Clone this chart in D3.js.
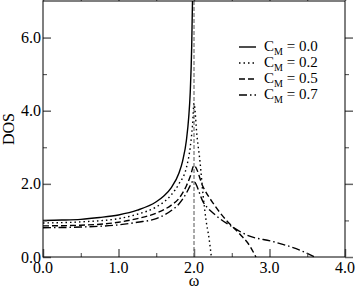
<!DOCTYPE html>
<html>
<head>
<meta charset="utf-8">
<script src="https://cdn.jsdelivr.net/npm/d3@7"></script>
<style>
  body { margin: 0; background: #fff; }
</style>
</head>
<body>
<svg width="357" height="306"></svg>
<script>
// omega grid and DOS, one list per C_M
var w0   = [0, 0.25, 0.5, 0.75, 1.0, 1.25, 1.5, 1.6, 1.7, 1.8, 1.85, 1.9, 1.93, 1.95, 1.97, 1.98];
var dos0 = [1.0, 1.01, 1.03, 1.08, 1.15, 1.28, 1.51, 1.67, 1.9, 2.29, 2.63, 3.2, 3.82, 4.5, 5.8, 7.0];

var w2   = [0, 0.5, 1.0, 1.25, 1.5, 1.7, 1.8, 1.9, 1.95, 1.98, 2.0, 2.04, 2.08, 2.12, 2.16, 2.2, 2.23];
var dos2 = [0.93, 0.96, 1.05, 1.17, 1.37, 1.7, 2.0, 2.45, 3.0, 3.6, 4.2, 3.3, 2.6, 1.7, 1.0, 0.5, 0.0];

var w5   = [0, 0.5, 1.0, 1.25, 1.5, 1.7, 1.8, 1.9, 1.95, 2.0, 2.12, 2.26, 2.43, 2.61, 2.74, 2.82];
var dos5 = [0.85, 0.87, 0.95, 1.05, 1.2, 1.42, 1.6, 1.95, 2.2, 2.5, 1.92, 1.45, 1.0, 0.62, 0.3, 0.0];

var w7   = [0, 0.5, 1.0, 1.25, 1.5, 1.7, 1.8, 1.9, 1.95, 1.99, 2.12, 2.3, 2.48, 2.7, 3.05, 3.4, 3.6];
var dos7 = [0.8, 0.82, 0.88, 0.95, 1.05, 1.27, 1.45, 1.75, 1.95, 2.08, 1.51, 1.12, 0.86, 0.6, 0.42, 0.19, 0.0];

var refLine = [[2.0, 0], [2.0, 7]];

var legendLabels = ["0.0", "0.2", "0.5", "0.7"];
var dashes = [null, "1.5,3", "6,3", "8,3,1.5,3"];

var xTicks = [0, 1, 2, 3, 4];
var yTicks = [0, 2, 4, 6];

var serif = "'Liberation Serif', 'Times New Roman', Times, 'DejaVu Serif', serif";

var svg = d3.select("svg"),
    margin = {top: 1, right: 12, bottom: 49, left: 43},
    width = +svg.attr("width") - margin.left - margin.right,
    height = +svg.attr("height") - margin.top - margin.bottom;

svg.attr("font-family", serif);

var x = d3.scaleLinear().domain([0, 4]).range([0, width]),
    y = d3.scaleLinear().domain([0, 7]).range([height, 0]);

var g = svg.append("g")
    .attr("transform", "translate(" + margin.left + "," + margin.top + ")");

var line = d3.line()
    .x(function(d) { return x(d[0]); })
    .y(function(d) { return y(d[1]); });

// dashed guide at omega = 2
g.append("path")
    .datum(refLine)
    .attr("d", line)
    .attr("fill", "none")
    .attr("stroke", "#555")
    .attr("stroke-width", 1)
    .attr("stroke-dasharray", "4,2");

var series = [[w0, dos0], [w2, dos2], [w5, dos5], [w7, dos7]];
series.forEach(function(s, i) {
    var pts = s[0].map(function(w, j) { return [w, s[1][j]]; });
    g.append("path")
        .datum(pts)
        .attr("d", line.curve(d3.curveMonotoneX))
        .attr("fill", "none")
        .attr("stroke", "#000")
        .attr("stroke-width", 1.4)
        .attr("stroke-dasharray", dashes[i]);
});

// ticks on all four sides, pointing inward
var xMinor = d3.range(0.5, 4, 1), yMinor = d3.range(1, 7, 2);

[["bottom", height], ["top", 0]].forEach(function(p) {
    var ax = p[0] == "bottom" ? d3.axisBottom : d3.axisTop;
    var sgn = p[0] == "bottom" ? 1 : -1;
    var gm = g.append("g").attr("transform", "translate(0," + p[1] + ")")
        .call(ax(x).tickValues(xTicks).tickSize(-8 * sgn).tickFormat(""));
    gm.selectAll("line").attr("stroke", "#666").attr("stroke-width", 1.5);
    var gn = g.append("g").attr("transform", "translate(0," + p[1] + ")")
        .call(ax(x).tickValues(xMinor).tickSize(-4 * sgn).tickFormat(""));
    gn.selectAll("line").attr("stroke", "#444");
    gm.select(".domain").remove(); gn.select(".domain").remove();
});
[["left", 0], ["right", width]].forEach(function(p) {
    var ax = p[0] == "left" ? d3.axisLeft : d3.axisRight;
    var sgn = p[0] == "left" ? 1 : -1;
    var gm = g.append("g").attr("transform", "translate(" + p[1] + ",0)")
        .call(ax(y).tickValues(yTicks).tickSize(-8 * sgn).tickFormat(""));
    gm.selectAll("line").attr("stroke", "#666").attr("stroke-width", 1.5);
    var gn = g.append("g").attr("transform", "translate(" + p[1] + ",0)")
        .call(ax(y).tickValues(yMinor).tickSize(-4 * sgn).tickFormat(""));
    gn.selectAll("line").attr("stroke", "#444");
    gm.select(".domain").remove(); gn.select(".domain").remove();
});

g.append("rect")
    .attr("width", width).attr("height", height)
    .attr("fill", "none").attr("stroke", "#000").attr("stroke-width", 1);

// tick labels
g.selectAll(".xl").data(xTicks).enter().append("text")
    .attr("x", function(d) { return x(d); })
    .attr("y", height + 16)
    .attr("text-anchor", "middle")
    .attr("font-family", serif)
    .attr("font-size", 16)
    .text(function(d) { return d.toFixed(1); });

g.selectAll(".yl").data(yTicks).enter().append("text")
    .attr("x", -2)
    .attr("y", function(d) { return y(d) + 5.5; })
    .attr("text-anchor", "end")
    .attr("font-family", serif)
    .attr("font-size", 16)
    .text(function(d) { return d.toFixed(1); });

g.append("text")
    .attr("x", x(2)).attr("y", height + 29)
    .attr("text-anchor", "middle").attr("font-size", 16)
    .attr("font-family", serif)
    .text("ω");

svg.append("text")
    .attr("transform", "translate(14," + (margin.top + height / 2) + ") rotate(-90)")
    .attr("text-anchor", "middle").attr("font-size", 16)
    .attr("font-family", serif)
    .text("DOS");

// legend
var leg = svg.append("g").attr("transform", "translate(239,47)");
legendLabels.forEach(function(lab, i) {
    var row = leg.append("g").attr("transform", "translate(0," + (i * 16) + ")");
    row.append("line")
        .attr("x1", 0).attr("x2", 17).attr("y1", 0).attr("y2", 0)
        .attr("stroke", "#000").attr("stroke-width", 1.4)
        .attr("stroke-dasharray", dashes[i]);
    var t = row.append("text").attr("x", 25).attr("y", 4)
        .attr("font-family", serif).attr("font-size", 15);
    t.append("tspan").text("C");
    t.append("tspan").attr("dy", 4).attr("font-size", 10).text("M");
    t.append("tspan").attr("dy", -4).text(" = " + lab);
});
</script>
</body>
</html>
